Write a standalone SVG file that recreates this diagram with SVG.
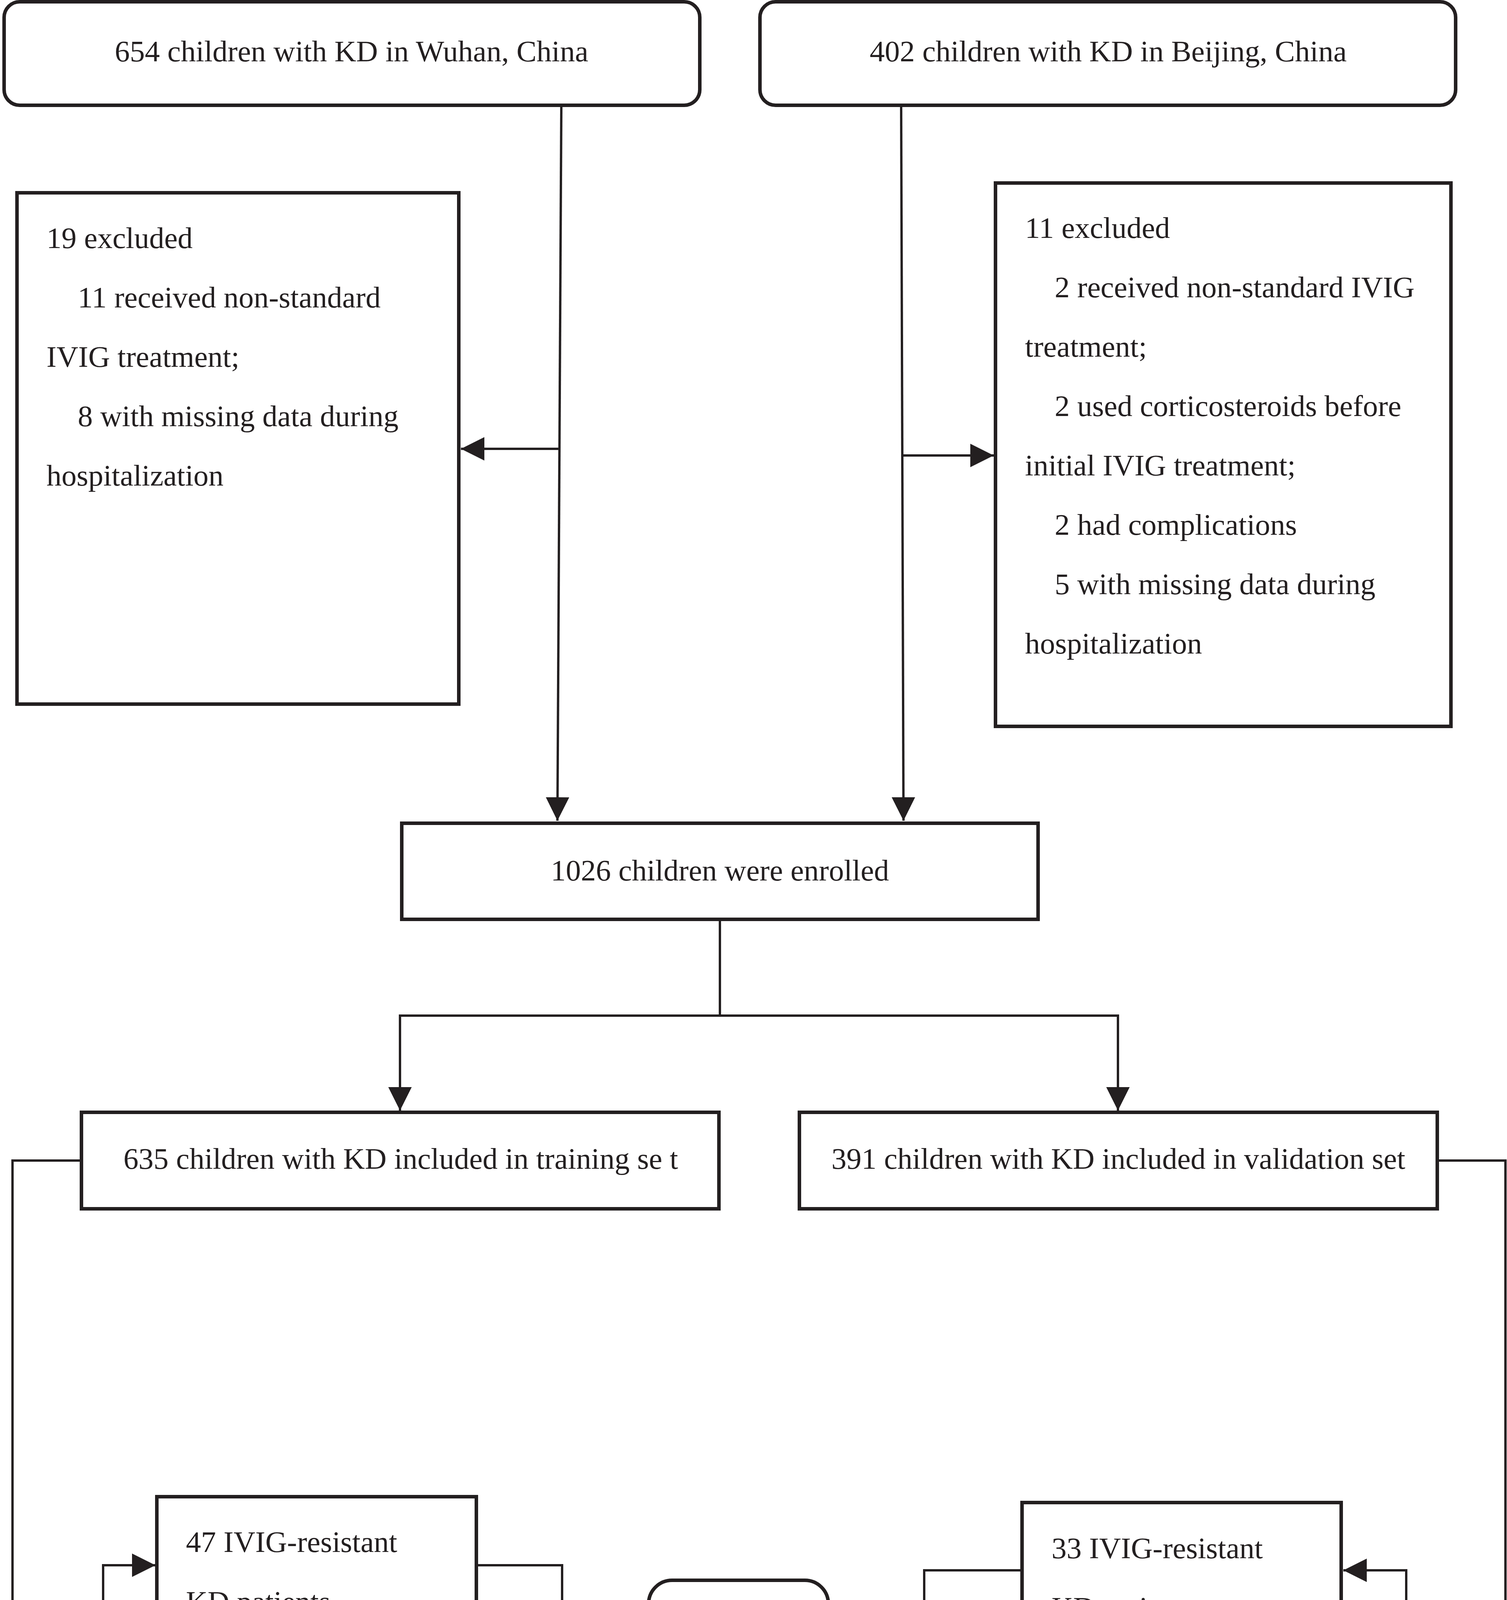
<svg xmlns="http://www.w3.org/2000/svg" width="3858" height="4925" viewBox="0 0 3858 4925">
<style>
.box{fill:#ffffff;stroke:#231f20;stroke-width:9}
.ln{fill:none;stroke:#231f20;stroke-width:6}
text{font-family:"Liberation Serif","Times New Roman",serif;font-size:77px;fill:#231f20}
.c{text-anchor:middle}
</style>
<defs>
<marker id="arr" markerUnits="userSpaceOnUse" markerWidth="60" markerHeight="60" viewBox="0 0 56 56" refX="56" refY="28" orient="auto">
<path d="M0,0 L56,28 L0,56 Z" fill="#231f20"/>
</marker>
</defs>
<rect width="3858" height="4925" fill="#ffffff"/>
<g id="connectors">
<polyline class="ln" points="1437,274 1427,2101" marker-end="url(#arr)"/>
<polyline class="ln" points="1432,1149 1180,1149" marker-end="url(#arr)"/>
<polyline class="ln" points="2307,274 2313,2101" marker-end="url(#arr)"/>
<polyline class="ln" points="2310,1166 2544,1166" marker-end="url(#arr)"/>
<polyline class="ln" points="1843,2358 1843,2600"/>
<polyline class="ln" points="1843,2600 1024,2600 1024,2843" marker-end="url(#arr)"/>
<polyline class="ln" points="1843,2600 2862,2600 2862,2843" marker-end="url(#arr)"/>
<polyline class="ln" points="204,2971 32,2971 32,4348 264,4348"/>
<polyline class="ln" points="264,4348 264,4007 398,4007" marker-end="url(#arr)"/>
<polyline class="ln" points="264,4348 264,4730 398,4730" marker-end="url(#arr)"/>
<polyline class="ln" points="1224,4007 1439,4007 1439,4730 1224,4730"/>
<polyline class="ln" points="1439,4362 1656,4362" marker-end="url(#arr)"/>
<polyline class="ln" points="3684,2971 3854,2971 3854,4337 3600,4337"/>
<polyline class="ln" points="3600,4337 3600,4020 3439,4020" marker-end="url(#arr)"/>
<polyline class="ln" points="3600,4337 3600,4730 3439,4730" marker-end="url(#arr)"/>
<polyline class="ln" points="2612,4020 2366,4020 2366,4730 2612,4730"/>
<polyline class="ln" points="2366,4362 2124,4362" marker-end="url(#arr)"/>
</g>
<g id="wuhan">
<rect class="box" x="10.5" y="4.5" width="1781" height="265" rx="40" ry="40"/>
<text class="c" x="900" y="157">654 children with KD in Wuhan, China</text>
</g>
<g id="beijing">
<rect class="box" x="1945.5" y="4.5" width="1781" height="265" rx="40" ry="40"/>
<text class="c" x="2837" y="157">402 children with KD in Beijing, China</text>
</g>
<g id="excluded-wuhan">
<rect class="box" x="43.5" y="493.5" width="1131" height="1309"/>
<text x="119" y="635">19 excluded</text>
<text x="199" y="787">11 received non-standard</text>
<text x="119" y="939">IVIG treatment;</text>
<text x="199" y="1091">8 with missing data during</text>
<text x="119" y="1243">hospitalization</text>
</g>
<g id="excluded-beijing">
<rect class="box" x="2548.5" y="468.5" width="1166" height="1391"/>
<text x="2624" y="609">11 excluded</text>
<text x="2700" y="761">2 received non-standard IVIG</text>
<text x="2624" y="913">treatment;</text>
<text x="2700" y="1065">2 used corticosteroids before</text>
<text x="2624" y="1217">initial IVIG treatment;</text>
<text x="2700" y="1369">2 had complications</text>
<text x="2700" y="1521">5 with missing data during</text>
<text x="2624" y="1673">hospitalization</text>
</g>
<g id="enrolled">
<rect class="box" x="1028.5" y="2107.5" width="1629" height="246"/>
<text class="c" x="1843" y="2254">1026 children were enrolled</text>
</g>
<g id="training">
<rect class="box" x="208.5" y="2847.5" width="1632" height="247"/>
<text class="c" x="1026" y="2992">635 children with KD included in training se t</text>
</g>
<g id="validation">
<rect class="box" x="2046.5" y="2847.5" width="1633" height="247"/>
<text class="c" x="2863" y="2992">391 children with KD included in validation set</text>
</g>
<g id="train-resistant">
<rect class="box" x="401.5" y="3831.5" width="818" height="350"/>
<text x="476" y="3973">47 IVIG-resistant</text>
<text x="476" y="4126">KD patients</text>
</g>
<g id="train-sensitive">
<rect class="box" x="401.5" y="4552.5" width="818" height="350"/>
<text x="476" y="4694">588 IVIG-sensitive</text>
<text x="476" y="4845">KD patients</text>
</g>
<g id="scoring">
<rect class="box" x="1660.5" y="4045.5" width="460" height="630" rx="60" ry="60"/>
<text class="c" x="1890" y="4202">Scoring</text>
<text class="c" x="1890" y="4354">Model</text>
<text class="c" x="1890" y="4507">study</text>
</g>
<g id="valid-resistant">
<rect class="box" x="2616.5" y="3846.5" width="817" height="349"/>
<text x="2692" y="3989">33 IVIG-resistant</text>
<text x="2692" y="4141">KD patients</text>
</g>
<g id="valid-sensitive">
<rect class="box" x="2616.5" y="4542" width="817" height="374"/>
<text x="2692" y="4680">358 IVIG-sensitive</text>
<text x="2692" y="4833">KD patients</text>
</g>
</svg>
